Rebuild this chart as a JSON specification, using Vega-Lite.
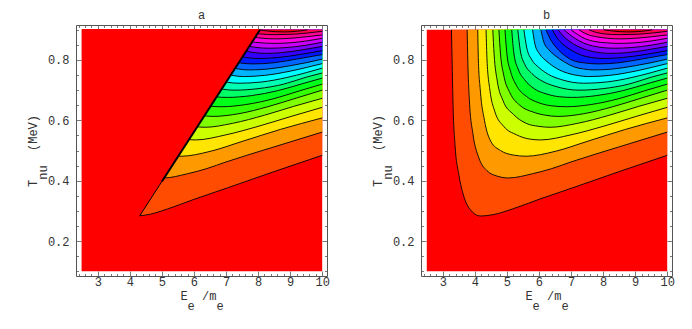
{"$schema":"https://vega.github.io/schema/vega-lite/v6.json","padding":{"left":26,"top":8,"right":0,"bottom":24},"background":"white","bounds":"flush","spacing":94,
"config":{"view":{"stroke":null},"axis":{"grid":false,"domainColor":"#555","tickColor":"#555","tickWidth":0.8,"domainWidth":1,"labelFont":"Liberation Mono","labelFontSize":12,"labelColor":"#333","titleFont":"Liberation Mono","titleFontSize":12,"titleFontWeight":"normal","titleColor":"#333","titleLineHeight":10,"labelOverlap":false,"labelBound":false,"labelFlush":false},"title":{"font":"Liberation Mono","fontSize":12,"fontWeight":"normal","color":"#333","offset":2}},
"datasets":{"curves":[
{"level":0,"x":2.5,"y":0.1},{"level":0,"x":10,"y":0.1},
{"level":1,"x":3.27,"y":0.9},{"level":1,"x":3.29,"y":0.8},{"level":1,"x":3.32,"y":0.65},{"level":1,"x":3.38,"y":0.52},{"level":1,"x":3.5,"y":0.42},{"level":1,"x":3.65,"y":0.35},{"level":1,"x":3.85,"y":0.305},{"level":1,"x":4.17,"y":0.283},{"level":1,"x":4.6,"y":0.288},{"level":1,"x":5.17,"y":0.306},{"level":1,"x":6,"y":0.338},{"level":1,"x":7.04,"y":0.376},{"level":1,"x":8.5,"y":0.43},{"level":1,"x":10,"y":0.484},
{"level":2,"x":3.76,"y":0.9},{"level":2,"x":3.78,"y":0.8},{"level":2,"x":3.83,"y":0.665},{"level":2,"x":3.94,"y":0.555},{"level":2,"x":4.12,"y":0.477},{"level":2,"x":4.38,"y":0.433},{"level":2,"x":4.7,"y":0.415},{"level":2,"x":5.05,"y":0.409},{"level":2,"x":5.8,"y":0.423},{"level":2,"x":6.4,"y":0.44},{"level":2,"x":7,"y":0.462},{"level":2,"x":8.5,"y":0.512},{"level":2,"x":10,"y":0.561},
{"level":3,"x":4.09,"y":0.9},{"level":3,"x":4.11,"y":0.8},{"level":3,"x":4.17,"y":0.7},{"level":3,"x":4.3,"y":0.6},{"level":3,"x":4.5,"y":0.53},{"level":3,"x":4.8,"y":0.5},{"level":3,"x":5.2,"y":0.485},{"level":3,"x":5.6,"y":0.481},{"level":3,"x":6.5,"y":0.497},{"level":3,"x":7.5,"y":0.53},{"level":3,"x":8.7,"y":0.57},{"level":3,"x":10,"y":0.608},
{"level":4,"x":4.35,"y":0.9},{"level":4,"x":4.38,"y":0.8},{"level":4,"x":4.47,"y":0.7},{"level":4,"x":4.62,"y":0.63},{"level":4,"x":4.9,"y":0.58},{"level":4,"x":5.3,"y":0.552},{"level":4,"x":5.7,"y":0.538},{"level":4,"x":6.05,"y":0.535},{"level":4,"x":7,"y":0.552},{"level":4,"x":8,"y":0.58},{"level":4,"x":9,"y":0.612},{"level":4,"x":10,"y":0.643},
{"level":5,"x":4.56,"y":0.9},{"level":5,"x":4.6,"y":0.82},{"level":5,"x":4.7,"y":0.73},{"level":5,"x":4.88,"y":0.665},{"level":5,"x":5.2,"y":0.62},{"level":5,"x":5.6,"y":0.59},{"level":5,"x":6,"y":0.58},{"level":5,"x":6.35,"y":0.577},{"level":5,"x":7.2,"y":0.59},{"level":5,"x":8.2,"y":0.617},{"level":5,"x":9.1,"y":0.646},{"level":5,"x":10,"y":0.673},
{"level":6,"x":4.75,"y":0.9},{"level":6,"x":4.8,"y":0.82},{"level":6,"x":4.9,"y":0.75},{"level":6,"x":5.1,"y":0.69},{"level":6,"x":5.4,"y":0.65},{"level":6,"x":5.8,"y":0.628},{"level":6,"x":6.2,"y":0.617},{"level":6,"x":6.6,"y":0.613},{"level":6,"x":7.4,"y":0.622},{"level":6,"x":8.3,"y":0.645},{"level":6,"x":9.2,"y":0.674},{"level":6,"x":10,"y":0.7},
{"level":7,"x":4.94,"y":0.9},{"level":7,"x":5,"y":0.82},{"level":7,"x":5.12,"y":0.76},{"level":7,"x":5.3,"y":0.715},{"level":7,"x":5.6,"y":0.68},{"level":7,"x":6,"y":0.658},{"level":7,"x":6.4,"y":0.648},{"level":7,"x":6.85,"y":0.645},{"level":7,"x":7.6,"y":0.652},{"level":7,"x":8.5,"y":0.672},{"level":7,"x":9.3,"y":0.698},{"level":7,"x":10,"y":0.72},
{"level":8,"x":5.15,"y":0.9},{"level":8,"x":5.22,"y":0.82},{"level":8,"x":5.35,"y":0.77},{"level":8,"x":5.55,"y":0.735},{"level":8,"x":5.85,"y":0.705},{"level":8,"x":6.25,"y":0.687},{"level":8,"x":6.65,"y":0.678},{"level":8,"x":7.05,"y":0.676},{"level":8,"x":7.8,"y":0.682},{"level":8,"x":8.6,"y":0.698},{"level":8,"x":9.4,"y":0.722},{"level":8,"x":10,"y":0.74},
{"level":9,"x":5.34,"y":0.9},{"level":9,"x":5.42,"y":0.83},{"level":9,"x":5.56,"y":0.785},{"level":9,"x":5.78,"y":0.755},{"level":9,"x":6.1,"y":0.73},{"level":9,"x":6.5,"y":0.713},{"level":9,"x":6.9,"y":0.703},{"level":9,"x":7.25,"y":0.7},{"level":9,"x":8,"y":0.705},{"level":9,"x":8.8,"y":0.72},{"level":9,"x":9.5,"y":0.743},{"level":9,"x":10,"y":0.757},
{"level":10,"x":5.53,"y":0.9},{"level":10,"x":5.62,"y":0.84},{"level":10,"x":5.78,"y":0.8},{"level":10,"x":6,"y":0.775},{"level":10,"x":6.3,"y":0.752},{"level":10,"x":6.7,"y":0.735},{"level":10,"x":7.05,"y":0.726},{"level":10,"x":7.4,"y":0.723},{"level":10,"x":8.1,"y":0.727},{"level":10,"x":8.9,"y":0.742},{"level":10,"x":9.5,"y":0.758},{"level":10,"x":10,"y":0.773},
{"level":11,"x":5.8,"y":0.9},{"level":11,"x":5.88,"y":0.85},{"level":11,"x":6.02,"y":0.82},{"level":11,"x":6.25,"y":0.795},{"level":11,"x":6.55,"y":0.772},{"level":11,"x":6.9,"y":0.756},{"level":11,"x":7.25,"y":0.748},{"level":11,"x":7.55,"y":0.745},{"level":11,"x":8.2,"y":0.749},{"level":11,"x":9,"y":0.763},{"level":11,"x":9.5,"y":0.775},{"level":11,"x":10,"y":0.788},
{"level":12,"x":6.06,"y":0.9},{"level":12,"x":6.15,"y":0.86},{"level":12,"x":6.3,"y":0.835},{"level":12,"x":6.5,"y":0.815},{"level":12,"x":6.8,"y":0.793},{"level":12,"x":7.1,"y":0.777},{"level":12,"x":7.4,"y":0.77},{"level":12,"x":7.7,"y":0.767},{"level":12,"x":8.3,"y":0.77},{"level":12,"x":9,"y":0.781},{"level":12,"x":9.5,"y":0.791},{"level":12,"x":10,"y":0.803},
{"level":13,"x":6.22,"y":0.9},{"level":13,"x":6.35,"y":0.87},{"level":13,"x":6.55,"y":0.84},{"level":13,"x":6.8,"y":0.815},{"level":13,"x":7.1,"y":0.797},{"level":13,"x":7.45,"y":0.79},{"level":13,"x":7.85,"y":0.787},{"level":13,"x":8.5,"y":0.791},{"level":13,"x":9.2,"y":0.803},{"level":13,"x":10,"y":0.818},
{"level":14,"x":6.42,"y":0.9},{"level":14,"x":6.55,"y":0.875},{"level":14,"x":6.75,"y":0.852},{"level":14,"x":7,"y":0.833},{"level":14,"x":7.3,"y":0.817},{"level":14,"x":7.65,"y":0.808},{"level":14,"x":8,"y":0.805},{"level":14,"x":8.6,"y":0.808},{"level":14,"x":9.3,"y":0.818},{"level":14,"x":10,"y":0.831},
{"level":15,"x":6.6,"y":0.9},{"level":15,"x":6.75,"y":0.88},{"level":15,"x":6.95,"y":0.862},{"level":15,"x":7.2,"y":0.846},{"level":15,"x":7.5,"y":0.833},{"level":15,"x":7.85,"y":0.825},{"level":15,"x":8.2,"y":0.822},{"level":15,"x":8.7,"y":0.824},{"level":15,"x":9.4,"y":0.834},{"level":15,"x":10,"y":0.845},
{"level":16,"x":6.78,"y":0.9},{"level":16,"x":6.95,"y":0.885},{"level":16,"x":7.15,"y":0.87},{"level":16,"x":7.4,"y":0.856},{"level":16,"x":7.7,"y":0.846},{"level":16,"x":8,"y":0.841},{"level":16,"x":8.35,"y":0.839},{"level":16,"x":8.85,"y":0.841},{"level":16,"x":9.5,"y":0.849},{"level":16,"x":10,"y":0.859},
{"level":17,"x":7,"y":0.9},{"level":17,"x":7.2,"y":0.885},{"level":17,"x":7.45,"y":0.87},{"level":17,"x":7.75,"y":0.861},{"level":17,"x":8.1,"y":0.857},{"level":17,"x":8.5,"y":0.855},{"level":17,"x":9,"y":0.857},{"level":17,"x":9.5,"y":0.863},{"level":17,"x":10,"y":0.872},
{"level":18,"x":7.25,"y":0.9},{"level":18,"x":7.5,"y":0.885},{"level":18,"x":7.8,"y":0.877},{"level":18,"x":8.15,"y":0.872},{"level":18,"x":8.55,"y":0.87},{"level":18,"x":9,"y":0.872},{"level":18,"x":9.5,"y":0.877},{"level":18,"x":10,"y":0.883},
{"level":19,"x":7.56,"y":0.9},{"level":19,"x":7.8,"y":0.891},{"level":19,"x":8.1,"y":0.886},{"level":19,"x":8.5,"y":0.884},{"level":19,"x":9,"y":0.885},{"level":19,"x":9.5,"y":0.889},{"level":19,"x":10,"y":0.895},
{"level":20,"x":8.02,"y":0.9},{"level":20,"x":8.3,"y":0.896},{"level":20,"x":8.8,"y":0.893},{"level":20,"x":9.2,"y":0.895},{"level":20,"x":9.54,"y":0.9}
],
"mask":[{"x":2.5,"y":0.1},{"x":4.31,"y":0.284},{"x":8.06,"y":0.9}],
"edge":[{"x":5,"y":0.397},{"x":8.06,"y":0.9}]},
"hconcat":[
{"title":"a","width":251,"height":251,
"encoding":{"x":{"field":"x","type":"quantitative","scale":{"domain":[2.32,10.15],"nice":false,"zero":false},"axis":null},"y":{"field":"y","type":"quantitative","scale":{"domain":[0.084,0.916],"nice":false,"zero":false},"axis":null}},
"resolve":{"axis":{"x":"independent","y":"independent"}},
"layer":[
{"data":{"name":"curves"},"mark":{"type":"area","interpolate":"monotone"},
"encoding":{
"x":{"field":"x","type":"quantitative","scale":{"domain":[2.32,10.15],"nice":false,"zero":false},"axis":{"orient":"bottom","title":["\u200bE\u00a0\u00a0/m\u00a0\u200b","\u200b\u00a0e\u00a0\u00a0\u00a0e\u200b"],"titlePadding":1,"values":[2.4,2.6,2.8,3,3.2,3.4,3.6,3.8,4,4.2,4.4,4.6,4.8,5,5.2,5.4,5.6,5.8,6,6.2,6.4,6.6,6.8,7,7.2,7.4,7.6,7.8,8,8.2,8.4,8.6,8.8,9,9.2,9.4,9.6,9.8,10],"labelExpr":"abs(datum.value-round(datum.value))<0.01?format(datum.value,'d'):''","labelPadding":5,"tickSize":{"condition":{"test":"abs(datum.value-round(datum.value))<0.01","value":-5},"value":-2.5}}},
"y":{"field":"y","type":"quantitative","scale":{"domain":[0.084,0.916],"nice":false,"zero":false},"axis":{"orient":"left","title":["\u200bT\u00a0\u00a0\u00a0\u00a0(MeV)\u200b","\u200b\u00a0nu\u00a0\u00a0\u00a0\u00a0\u00a0\u00a0\u00a0\u200b"],"titlePadding":-2,"values":[0.1,0.15,0.2,0.25,0.3,0.35,0.4,0.45,0.5,0.55,0.6,0.65,0.7,0.75,0.8,0.85,0.9],"labelExpr":"abs(datum.value*5-round(datum.value*5))<0.01?format(datum.value,'.1f'):''","labelPadding":12,"tickSize":{"condition":{"test":"abs(datum.value*5-round(datum.value*5))<0.01","value":-5},"value":-2.5}}},
"y2":{"datum":0.9},
"color":{"field":"level","type":"ordinal","legend":null,"scale":{"domain":[0,1,2,3,4,5,6,7,8,9,10,11,12,13,14,15,16,17,18,19,20],"range":["#ff0000","#ff4c00","#ff9900","#ffe500","#ccff00","#80ff00","#33ff00","#00ff19","#00ff66","#00ffb3","#00ffff","#00b3ff","#0066ff","#001aff","#3300ff","#8000ff","#cc00ff","#ff00e6","#ff0099","#ff004c","#e60000"]}}}},
{"data":{"name":"curves"},"transform":[{"filter":"datum.level>0"}],"mark":{"type":"line","interpolate":"monotone","color":"#000","strokeWidth":0.9},
"encoding":{"detail":{"field":"level","type":"ordinal"},
"x":{"field":"x","type":"quantitative","scale":{"domain":[2.32,10.15],"nice":false,"zero":false},"axis":{"orient":"top","title":null,"labels":false,"values":[2.4,2.6,2.8,3,3.2,3.4,3.6,3.8,4,4.2,4.4,4.6,4.8,5,5.2,5.4,5.6,5.8,6,6.2,6.4,6.6,6.8,7,7.2,7.4,7.6,7.8,8,8.2,8.4,8.6,8.8,9,9.2,9.4,9.6,9.8,10],"tickSize":{"condition":{"test":"abs(datum.value-round(datum.value))<0.01","value":-5},"value":-2.5}}},
"y":{"field":"y","type":"quantitative","scale":{"domain":[0.084,0.916],"nice":false,"zero":false},"axis":{"orient":"right","title":null,"labels":false,"values":[0.1,0.15,0.2,0.25,0.3,0.35,0.4,0.45,0.5,0.55,0.6,0.65,0.7,0.75,0.8,0.85,0.9],"tickSize":{"condition":{"test":"abs(datum.value*5-round(datum.value*5))<0.01","value":-5},"value":-2.5}}}}},
{"data":{"name":"mask"},"mark":{"type":"area","color":"#ff0000"},"encoding":{"y2":{"datum":0.903}}},
{"data":{"name":"mask"},"transform":[{"filter":"datum.x>4"}],"mark":{"type":"line","color":"#000","strokeWidth":1},"encoding":{}},
{"data":{"name":"edge"},"mark":{"type":"line","color":"#000","strokeWidth":2},"encoding":{}}
]},
{"title":"b","width":251,"height":251,
"encoding":{"x":{"field":"x","type":"quantitative","scale":{"domain":[2.32,10.15],"nice":false,"zero":false},"axis":null},"y":{"field":"y","type":"quantitative","scale":{"domain":[0.084,0.916],"nice":false,"zero":false},"axis":null}},
"resolve":{"axis":{"x":"independent","y":"independent"}},
"layer":[
{"data":{"name":"curves"},"mark":{"type":"area","interpolate":"monotone"},
"encoding":{
"x":{"field":"x","type":"quantitative","scale":{"domain":[2.32,10.15],"nice":false,"zero":false},"axis":{"orient":"bottom","title":["\u200bE\u00a0\u00a0/m\u00a0\u200b","\u200b\u00a0e\u00a0\u00a0\u00a0e\u200b"],"titlePadding":1,"values":[2.4,2.6,2.8,3,3.2,3.4,3.6,3.8,4,4.2,4.4,4.6,4.8,5,5.2,5.4,5.6,5.8,6,6.2,6.4,6.6,6.8,7,7.2,7.4,7.6,7.8,8,8.2,8.4,8.6,8.8,9,9.2,9.4,9.6,9.8,10],"labelExpr":"abs(datum.value-round(datum.value))<0.01?format(datum.value,'d'):''","labelPadding":5,"tickSize":{"condition":{"test":"abs(datum.value-round(datum.value))<0.01","value":-5},"value":-2.5}}},
"y":{"field":"y","type":"quantitative","scale":{"domain":[0.084,0.916],"nice":false,"zero":false},"axis":{"orient":"left","title":["\u200bT\u00a0\u00a0\u00a0\u00a0(MeV)\u200b","\u200b\u00a0nu\u00a0\u00a0\u00a0\u00a0\u00a0\u00a0\u00a0\u200b"],"titlePadding":-2,"values":[0.1,0.15,0.2,0.25,0.3,0.35,0.4,0.45,0.5,0.55,0.6,0.65,0.7,0.75,0.8,0.85,0.9],"labelExpr":"abs(datum.value*5-round(datum.value*5))<0.01?format(datum.value,'.1f'):''","labelPadding":12,"tickSize":{"condition":{"test":"abs(datum.value*5-round(datum.value*5))<0.01","value":-5},"value":-2.5}}},
"y2":{"datum":0.9},
"color":{"field":"level","type":"ordinal","legend":null,"scale":{"domain":[0,1,2,3,4,5,6,7,8,9,10,11,12,13,14,15,16,17,18,19,20],"range":["#ff0000","#ff4c00","#ff9900","#ffe500","#ccff00","#80ff00","#33ff00","#00ff19","#00ff66","#00ffb3","#00ffff","#00b3ff","#0066ff","#001aff","#3300ff","#8000ff","#cc00ff","#ff00e6","#ff0099","#ff004c","#e60000"]}}}},
{"data":{"name":"curves"},"transform":[{"filter":"datum.level>0"}],"mark":{"type":"line","interpolate":"monotone","color":"#000","strokeWidth":0.9},
"encoding":{"detail":{"field":"level","type":"ordinal"},
"x":{"field":"x","type":"quantitative","scale":{"domain":[2.32,10.15],"nice":false,"zero":false},"axis":{"orient":"top","title":null,"labels":false,"values":[2.4,2.6,2.8,3,3.2,3.4,3.6,3.8,4,4.2,4.4,4.6,4.8,5,5.2,5.4,5.6,5.8,6,6.2,6.4,6.6,6.8,7,7.2,7.4,7.6,7.8,8,8.2,8.4,8.6,8.8,9,9.2,9.4,9.6,9.8,10],"tickSize":{"condition":{"test":"abs(datum.value-round(datum.value))<0.01","value":-5},"value":-2.5}}},
"y":{"field":"y","type":"quantitative","scale":{"domain":[0.084,0.916],"nice":false,"zero":false},"axis":{"orient":"right","title":null,"labels":false,"values":[0.1,0.15,0.2,0.25,0.3,0.35,0.4,0.45,0.5,0.55,0.6,0.65,0.7,0.75,0.8,0.85,0.9],"tickSize":{"condition":{"test":"abs(datum.value*5-round(datum.value*5))<0.01","value":-5},"value":-2.5}}}}}
]}
]}
